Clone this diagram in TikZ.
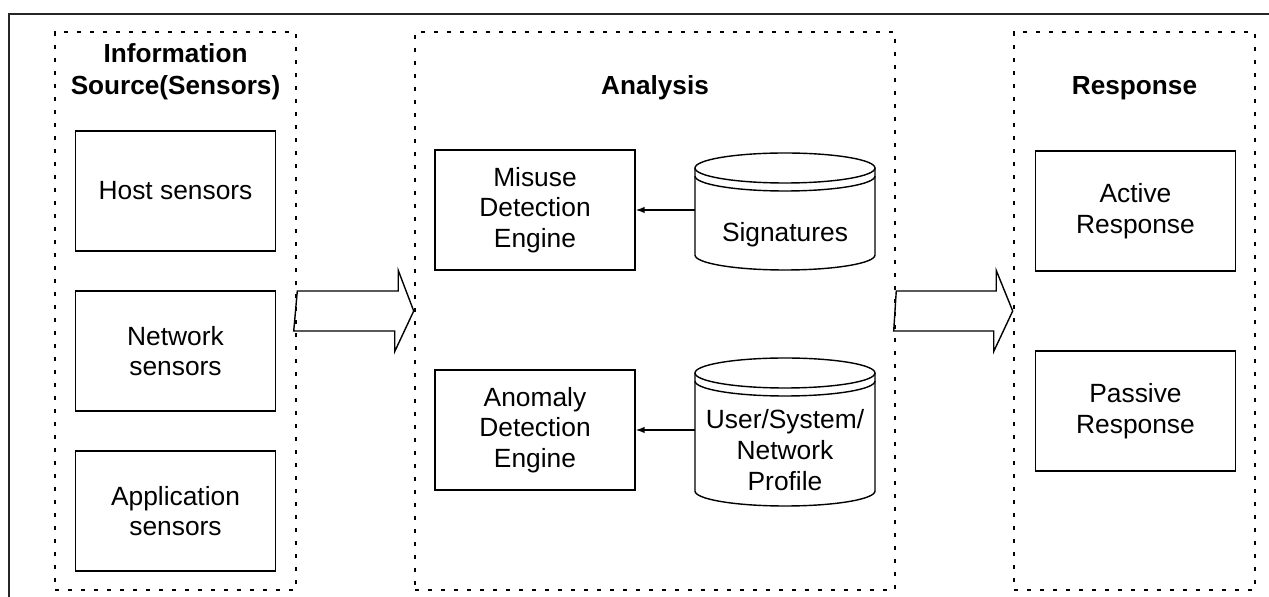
\documentclass[tikz,border=0pt]{standalone}
\usepackage{fontspec}
\setmainfont{Liberation Sans}
\usetikzlibrary{arrows.meta}
\usetikzlibrary{calc}

% database drum: centre x, top y, bottom y (pixel units, y down)
\newcommand{\dbcyl}[3]{%
  \draw[boxline] (#1-90,-#2-15) -- (#1-90,-#3+15)
    arc[start angle=180, end angle=360, x radius=90, y radius=15] -- (#1+90,-#2-15);
  \draw[boxline] (#1,-#2-15) ellipse[x radius=90, y radius=15];
  \draw[boxline] (#1-90,-#2-23) arc[start angle=180, end angle=360, x radius=90, y radius=15];
}

\begin{document}
\begin{tikzpicture}[x=0.02cm, y=0.02cm,
    boxline/.style={line width=0.8pt},
    panel/.style={draw, line width=1.5pt, dash pattern=on 0.08cm off 0.18cm, minimum height=11.16cm, inner sep=0},
    box/.style={draw, line width=0.8pt, minimum width=4cm, minimum height=2.4cm, align=center, font=\fontsize{15}{17.5}\selectfont},
    heading/.style={align=center, font=\fontsize{14.9}{18}\selectfont\bfseries},
    dbtext/.style={minimum width=3.6cm, inner sep=0, align=center, font=\fontsize{15}{17.5}\selectfont},
    bigarrow/.style={draw, line width=0.8pt},
    conn/.style={-{Latex[length=0.18cm,width=0.13cm]}, line width=0.8pt}]
    \useasboundingbox (0,0) rectangle (1269,-597);

    % outer frame
    \draw[line width=1.1pt, black!85] (1269,-14) -- (9,-14) -- (9,-597);

    % the three stages
    \node[panel, minimum width=4.82cm] (srcpanel) at (175.5,-311) {};
    \node[panel, minimum width=9.6cm] (anapanel) at (655,-311) {};
    \node[panel, minimum width=4.82cm] (resppanel) at (1134.5,-311) {};

    \node[heading] (srctitle) at (175.5,-72) {Information\\Source(Sensors)};
    \node[heading] (anatitle) at (655,-88) {Analysis};
    \node[heading] (resptitle) at (1134.5,-88) {Response};

    % sensors
    \node[box] (host) at (175.5,-191) {Host sensors};
    \node[box] (net) at (175.5,-351) {Network\\sensors};
    \node[box] (app) at (175.5,-511) {Application\\sensors};

    % analysis engines and their stores
    \node[box] (misuse) at (535,-210) {Misuse\\Detection\\Engine};
    \node[box] (anomaly) at (535,-430) {Anomaly\\Detection\\Engine};

    \dbcyl{785}{153}{270}
    \dbcyl{785}{358}{506}
    \node[dbtext] (sig) at (785,-235) {Signatures};
    \node[dbtext] (prof) at (785,-450) {User/System/\\Network\\Profile};

    \draw[conn] (sig.west |- misuse.east) -- (misuse.east);
    \draw[conn] (prof.west |- anomaly.east) -- (anomaly.east);

    % responses
    \node[box] (active) at (1135.5,-211) {Active\\Response};
    \node[box] (passive) at (1135.5,-411) {Passive\\Response};

    % hollow arrows between the stages
    \draw[bigarrow] (srcpanel.east) ++(0,20) -- ++(101,0) -- ++(0,20.5) -- (anapanel.west)
        -- ++(-19,-40.5) -- ++(0,20.5) -- ++(-101,0) -- cycle;
    \draw[bigarrow] (anapanel.east) ++(0,20) -- ++(100,0) -- ++(0,20.5) -- (resppanel.west)
        -- ++(-19,-40.5) -- ++(0,20.5) -- ++(-100,0) -- cycle;
\end{tikzpicture}
\end{document}
